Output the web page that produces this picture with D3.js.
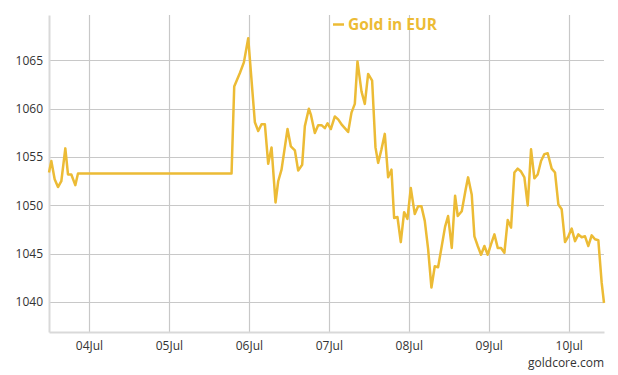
<!DOCTYPE html>
<html lang="en">
<head>
<meta charset="UTF-8">
<script src="https://d3js.org/d3.v7.min.js"></script>
<style>
  body { margin: 0; background: #fff; }
  svg text { font-family: 'Open Sans', 'Segoe UI', sans-serif; }
</style>
</head>
<body>
<div id="chart"></div>
<script>
// hours after 04 Jul 00:00
const hours = [-12.0, -11.3, -10.3, -9.3, -8.3, -7.1, -6.3, -5.3, -4.1, -3.3,
  42.8, 43.6, 45.3, 46.5, 47.8, 49.8, 50.8, 51.8, 52.8, 53.8, 54.8, 56.0, 56.8, 57.8,
  59.6, 60.6, 61.8, 62.8, 64.0, 64.8, 66.0, 66.6, 67.8, 68.8, 69.8, 70.8, 71.6, 72.6,
  73.8, 74.8, 76.0, 77.8, 78.8, 79.8, 80.6, 81.8, 82.8, 83.8, 85.0, 86.0, 86.8, 87.8,
  88.8, 89.8, 90.8, 91.6, 92.6, 93.6, 94.6, 95.6, 96.6, 97.8, 98.8, 99.8, 100.8, 101.8,
  102.8, 103.8, 104.8, 105.9, 106.9, 107.8, 108.9, 109.9, 110.7, 111.9, 113.1, 113.8,
  114.9, 115.7, 116.7, 117.7, 118.7, 119.7, 120.7, 121.7, 122.7, 123.7, 124.7, 125.7,
  126.7, 127.7, 128.7, 129.7, 130.7, 131.7, 132.7, 133.7, 134.7, 135.7, 136.7, 137.7,
  138.9, 139.9, 140.9, 141.9, 142.9, 143.9, 144.9, 145.9, 146.9, 147.9, 148.9, 149.9,
  150.9, 151.9, 152.9, 153.9, 154.6];
const goldEur = [1053.4, 1054.6, 1052.7, 1051.9, 1052.5, 1055.9, 1053.2, 1053.2, 1052.1, 1053.3,
  1053.3, 1062.3, 1063.7, 1064.8, 1067.3, 1058.6, 1057.7, 1058.4, 1058.4, 1054.3, 1056.0, 1050.3, 1052.5, 1053.7,
  1057.9, 1056.1, 1055.7, 1053.6, 1054.2, 1058.2, 1060.0, 1059.4, 1057.5, 1058.3, 1058.3, 1058.0, 1058.5, 1057.9,
  1059.2, 1058.9, 1058.3, 1057.6, 1059.6, 1060.5, 1064.9, 1061.8, 1060.5, 1063.6, 1062.9, 1056.0, 1054.4, 1055.8,
  1057.4, 1052.9, 1053.7, 1048.7, 1048.8, 1046.2, 1049.3, 1048.6, 1051.8, 1049.1, 1049.9, 1049.9, 1048.4, 1045.5,
  1041.5, 1043.7, 1043.6, 1045.8, 1047.8, 1048.9, 1045.6, 1051.0, 1048.9, 1049.4, 1051.7, 1052.9,
  1051.1, 1046.8, 1045.8, 1044.9, 1045.8, 1044.9, 1046.0, 1047.0, 1045.6, 1045.6, 1045.1, 1048.5,
  1047.7, 1053.4, 1053.8, 1053.5, 1052.9, 1050.0, 1055.8, 1052.8, 1053.2, 1054.6, 1055.3, 1055.4,
  1053.8, 1053.4, 1050.1, 1049.6, 1046.2, 1046.8, 1047.6, 1046.3, 1047.0, 1046.7, 1046.8, 1045.8,
  1046.9, 1046.5, 1046.4, 1042.0, 1039.9];
const yTicks = [1040, 1045, 1050, 1055, 1060, 1065];
const seriesName = "Gold in EUR";
const credit = "goldcore.com";

const W = 618, H = 375;
const margin = { top: 15, right: 14, bottom: 43, left: 49 };
const gold = "#ecbb35";

const base = new Date(2015, 6, 4);
const toDate = h => new Date(base.getTime() + h * 3600e3);
const data = hours.map((h, i) => ({ t: toDate(h), v: goldEur[i] }));

const svg = d3.select("#chart").append("svg")
  .attr("width", W).attr("height", H);

const x = d3.scaleTime()
  .domain(d3.extent(data, d => d.t))
  .range([margin.left, W - margin.right]);
const y = d3.scaleLinear()
  .domain([1036.9, 1069.7])
  .range([H - margin.bottom, margin.top]);

const days = d3.timeDay.range(toDate(0), toDate(150));

// grid
svg.append("g").selectAll("line").data(yTicks).join("line")
  .attr("x1", margin.left).attr("x2", W - margin.right)
  .attr("y1", d => Math.round(y(d)) + 0.5).attr("y2", d => Math.round(y(d)) + 0.5)
  .attr("stroke", "#c8c8c8").attr("stroke-width", 1.2);
svg.append("g").selectAll("line").data(days).join("line")
  .attr("x1", d => Math.round(x(d)) + 0.5).attr("x2", d => Math.round(x(d)) + 0.5)
  .attr("y1", margin.top).attr("y2", H - margin.bottom)
  .attr("stroke", "#c8c8c8").attr("stroke-width", 1.2);

// axes
const yAxis = svg.append("g")
  .attr("transform", `translate(${margin.left},0)`)
  .call(d3.axisLeft(y).tickValues(yTicks).tickFormat(d3.format("d")).tickSize(0).tickPadding(6));
const xAxis = svg.append("g")
  .attr("transform", `translate(0,${H - margin.bottom})`)
  .call(d3.axisBottom(x).tickValues(days).tickFormat(d3.timeFormat("%d%b")).tickSize(0).tickPadding(9));
[yAxis, xAxis].forEach(a => {
  a.select(".domain").attr("stroke", "#d9d9d9").attr("stroke-width", 2);
  a.selectAll("text").attr("fill", "#333").attr("font-size", 12);
});

// series
svg.append("path")
  .datum(data)
  .attr("fill", "none")
  .attr("stroke", gold)
  .attr("stroke-width", 2.5)
  .attr("stroke-linejoin", "round")
  .attr("d", d3.line().x(d => x(d.t)).y(d => y(d.v)));

// legend
svg.append("line")
  .attr("x1", 333).attr("x2", 344).attr("y1", 24.5).attr("y2", 24.5)
  .attr("stroke", gold).attr("stroke-width", 2.5);
svg.append("text")
  .attr("x", 348).attr("y", 30)
  .attr("fill", gold).attr("font-size", 15.5).attr("font-weight", "bold")
  .text(seriesName);

svg.append("text")
  .attr("x", W - margin.right).attr("y", 367)
  .attr("text-anchor", "end").attr("fill", "#333").attr("font-size", 12)
  .text(credit);
</script>
</body>
</html>
